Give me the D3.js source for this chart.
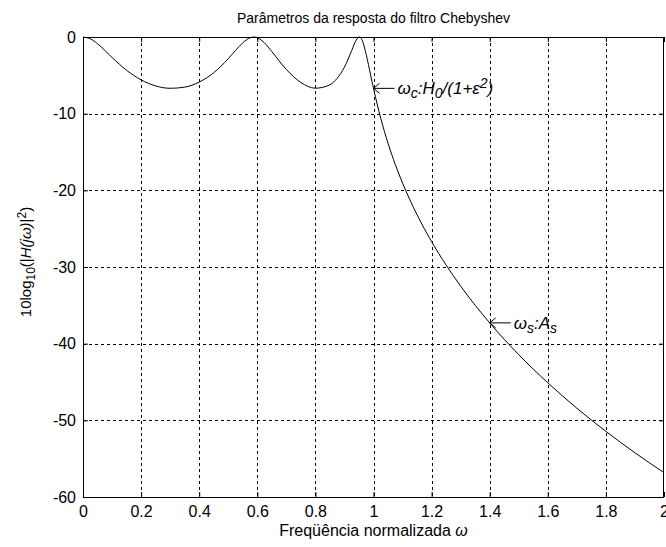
<!DOCTYPE html>
<html>
<head>
<meta charset="utf-8">
<script src="https://cdn.jsdelivr.net/npm/d3@7"></script>
<style>
  body { margin: 0; background: #fff; }
  svg { display: block; }
  text { font-family: "Liberation Sans", Arial, sans-serif; fill: #000; }
</style>
</head>
<body>
<div id="chart"></div>
<script>
// normalized frequency
var freq = [0, 0.025, 0.05, 0.1, 0.15, 0.2, 0.25, 0.3, 0.35, 0.4, 0.45, 0.5, 0.525, 0.55, 0.575, 0.59,
  0.625, 0.65, 0.7, 0.75, 0.8, 0.85, 0.875, 0.9, 0.925, 0.94, 0.951, 0.96, 0.975, 0.99, 1.0,
  1.025, 1.05, 1.075, 1.1, 1.15, 1.2, 1.25, 1.3, 1.35, 1.4, 1.45, 1.5, 1.55, 1.6, 1.65, 1.7,
  1.75, 1.8, 1.85, 1.9, 1.95, 2.0];
// response in dB
var gainDb = [0, -0.24, -0.88, -2.67, -4.34, -5.59, -6.38, -6.69, -6.54, -5.88, -4.66, -2.83, -1.76, -0.76, -0.10, 0,
  -0.78, -1.90, -4.24, -5.93, -6.68, -6.23, -5.38, -3.93, -1.76, -0.43, 0, -0.35, -2.30, -4.95, -6.70,
  -10.61, -13.86, -16.63, -19.05, -23.19, -26.69, -29.75, -32.49, -34.99, -37.29, -39.43, -41.43, -43.32, -45.10, -46.80, -48.42,
  -49.96, -51.44, -52.86, -54.23, -55.55, -56.83];

var xTicks = [0, 0.2, 0.4, 0.6, 0.8, 1, 1.2, 1.4, 1.6, 1.8, 2];
var yTicks = [0, -10, -20, -30, -40, -50, -60];

// annotated points: [freq, dB]
var cutoffPoint = [1.0, -6.70];
var stopPoint = [1.4, -37.29];

var width = 666, height = 547;
var margin = { top: 37, right: 2, bottom: 50, left: 83 };
var plotW = width - margin.left - margin.right;
var plotH = height - margin.top - margin.bottom;

var svg = d3.select("#chart").append("svg")
  .attr("width", width)
  .attr("height", height);

var g = svg.append("g")
  .attr("transform", "translate(" + margin.left + "," + margin.top + ")");

var x = d3.scaleLinear().domain([0, 2]).range([0, plotW]);
var y = d3.scaleLinear().domain([-60, 0]).range([plotH, 0]);

// grid
g.append("g").selectAll("line")
  .data(xTicks.slice(1, -1))
  .enter().append("line")
  .attr("x1", function (d) { return Math.round(x(d)) + 0.5; })
  .attr("x2", function (d) { return Math.round(x(d)) + 0.5; })
  .attr("y1", 0).attr("y2", plotH)
  .attr("stroke", "#000").attr("stroke-dasharray", "3,3");

g.append("g").selectAll("line")
  .data(yTicks.slice(1, -1))
  .enter().append("line")
  .attr("y1", function (d) { return Math.round(y(d)) + 0.5; })
  .attr("y2", function (d) { return Math.round(y(d)) + 0.5; })
  .attr("x1", 0).attr("x2", plotW)
  .attr("stroke", "#000").attr("stroke-dasharray", "3,3");

// plain hyphen minus like the original
var fmt = function (d) { return String(d); };

// axes (ticks inside, labels outside)
var xAxis = d3.axisBottom(x).tickValues(xTicks).tickSizeInner(-5).tickSizeOuter(0)
  .tickPadding(9).tickFormat(fmt);
var yAxis = d3.axisLeft(y).tickValues(yTicks).tickSizeInner(-5).tickSizeOuter(0)
  .tickPadding(7).tickFormat(fmt);

var gx = g.append("g").attr("transform", "translate(0," + plotH + ")").call(xAxis);
var gy = g.append("g").call(yAxis);
g.append("g").call(d3.axisTop(x).tickValues(xTicks).tickSizeInner(-5).tickSizeOuter(0).tickFormat(""));
g.append("g").attr("transform", "translate(" + plotW + ",0)")
  .call(d3.axisRight(y).tickValues(yTicks).tickSizeInner(-5).tickSizeOuter(0).tickFormat(""));

[gx, gy].forEach(function (a) {
  a.selectAll("text").style("font-size", "16px").attr("fill", "#000");
});
g.selectAll(".domain").remove();
g.selectAll(".tick line").attr("stroke", "#000");

// box
g.append("rect")
  .attr("x", 0.5).attr("y", 0.5)
  .attr("width", plotW - 1).attr("height", plotH)
  .attr("fill", "none").attr("stroke", "#000");

// response curve
var pts = freq.map(function (f, i) { return [f, gainDb[i]]; });
var line = d3.line()
  .x(function (d) { return x(d[0]); })
  .y(function (d) { return y(d[1]); })
  .curve(d3.curveMonotoneX);

g.append("path")
  .datum(pts)
  .attr("d", line)
  .attr("fill", "none")
  .attr("stroke", "#000")
  .attr("stroke-width", 1);

// annotation arrows + text
function annotate(p, parts) {
  var px = x(p[0]), py = y(p[1]);
  var a = g.append("g");
  a.append("path")
    .attr("d", "M" + (px + 21) + "," + py + "H" + px + "M" + (px + 6) + "," + (py - 5) + "L" + px + "," + py + "L" + (px + 6) + "," + (py + 5))
    .attr("fill", "none").attr("stroke", "#000");
  var t = a.append("text")
    .attr("x", px + 24).attr("y", py + 6)
    .style("font-size", "17px").style("font-style", "italic");
  parts.forEach(function (s) {
    var sp = t.append("tspan").text(s[0]);
    if (s[1] === "sub") sp.attr("baseline-shift", "-30%").style("font-size", "14px");
    if (s[1] === "sup") sp.attr("baseline-shift", "40%").style("font-size", "14px");
  });
}
annotate(cutoffPoint, [["ω"], ["c", "sub"], [":H"], ["0", "sub"], ["/(1+ε"], ["2", "sup"], [")"]]);
annotate(stopPoint, [["ω"], ["s", "sub"], [":A"], ["s", "sub"]]);

// title
svg.append("text")
  .attr("x", margin.left + plotW / 2).attr("y", 23)
  .attr("text-anchor", "middle")
  .style("font-size", "14px")
  .text("Parâmetros da resposta do filtro Chebyshev");

// x label
var xl = svg.append("text")
  .attr("x", margin.left + plotW / 2).attr("y", 536)
  .attr("text-anchor", "middle")
  .style("font-size", "16px");
xl.append("tspan").text("Freqüência normalizada ");
xl.append("tspan").style("font-style", "italic").text("ω");

// y label
var yl = svg.append("text")
  .attr("transform", "translate(31,262) rotate(-90)")
  .attr("text-anchor", "middle")
  .style("font-size", "15px");
yl.append("tspan").text("10log");
yl.append("tspan").attr("baseline-shift", "-30%").style("font-size", "12px").text("10");
yl.append("tspan").text("(|");
yl.append("tspan").style("font-style", "italic").text("H(jω)");
yl.append("tspan").text("|");
yl.append("tspan").attr("baseline-shift", "40%").style("font-size", "12px").text("2");
yl.append("tspan").text(")");
</script>
</body>
</html>
